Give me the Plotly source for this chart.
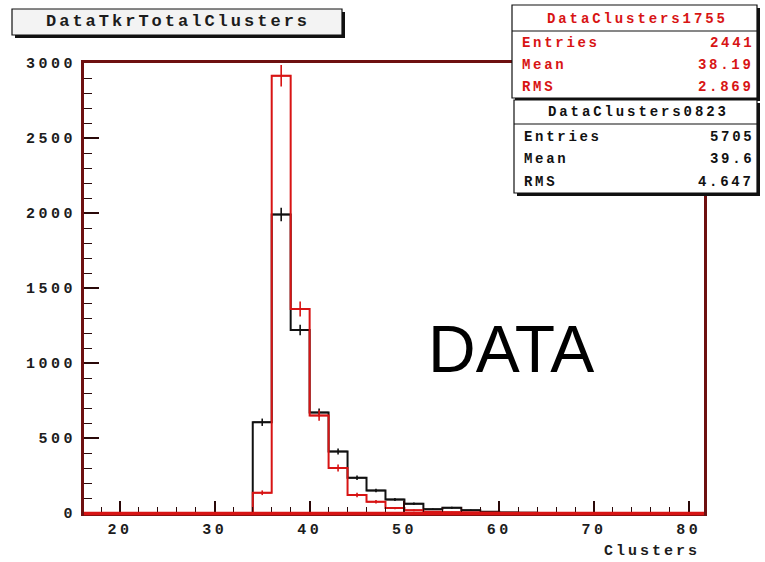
import numpy as np
import plotly.graph_objects as go

# ---- histogram contents (2-cluster wide bins) ----
bin_low = list(range(16, 82, 2))
bin_width = 2

counts_0823 = [0, 0, 0, 0, 0, 0, 0, 0, 0,
               605, 1990, 1220, 670, 410, 235, 150, 90, 62, 25, 35, 18, 8, 3, 2,
               0, 0, 0, 0, 0, 0, 0, 0, 0]
counts_1755 = [0, 0, 0, 0, 0, 0, 0, 0, 0,
               135, 2915, 1360, 650, 300, 120, 75, 33, 18, 8, 5, 3, 1, 0, 0,
               0, 0, 0, 0, 0, 0, 0, 0, 0]
# the 1755 sample is weighted, so its per-bin errors are larger than sqrt(N)
weight_1755 = 1.8

stats_1755 = [("Entries", "2441"), ("Mean", "38.19"), ("RMS", "2.869")]
stats_0823 = [("Entries", "5705"), ("Mean", "39.6"), ("RMS", "4.647")]

x_ticks = [20, 30, 40, 50, 60, 70, 80]
y_ticks = [0, 500, 1000, 1500, 2000, 2500, 3000]

# ---- page geometry (pixels) ----
W, H = 765, 562
L, R, T, B = 84, 704, 63, 513


def px(x):
    return (x - L) / (R - L)


def py(y):
    return (B - y) / (B - T)


def spaced(text, ls):
    return f"<span style='letter-spacing:{ls}px'>{text}</span>"


MONO = "Liberation Mono"
RED = "#d81414"
FRAME = "#6e1010"

edges = bin_low + [bin_low[-1] + bin_width]
centers = [b + bin_width / 2 for b in bin_low]


def step_trace(counts, color, width):
    return go.Scatter(x=edges, y=list(counts) + [counts[-1]], mode="lines",
                      line=dict(color=color, width=width, shape="hv"),
                      hoverinfo="skip", showlegend=False)


def err_trace(counts, color, weight):
    xs = [c for c, n in zip(centers, counts) if n > 0]
    ys = [n for n in counts if n > 0]
    es = [float(np.sqrt(n * weight)) for n in ys]
    return go.Scatter(x=xs, y=ys, mode="markers",
                      marker=dict(size=1, color=color),
                      error_y=dict(type="data", array=es, color=color,
                                   thickness=1.6, width=0),
                      error_x=dict(type="constant", value=bin_width / 2,
                                   color=color, thickness=1.6, width=0),
                      hoverinfo="skip", showlegend=False)


fig = go.Figure()
fig.add_trace(step_trace(counts_0823, "#111111", 2))
fig.add_trace(err_trace(counts_0823, "#111111", 1.0))
fig.add_trace(step_trace(counts_1755, RED, 2))
fig.add_trace(err_trace(counts_1755, RED, weight_1755))

shapes = []


def box(x0, y0, x1, y1, fill, shadow=3, line="#111111"):
    shapes.append(dict(type="rect", xref="paper", yref="paper",
                       x0=px(x0 + shadow), x1=px(x1 + shadow),
                       y0=py(y0 + shadow), y1=py(y1 + shadow),
                       fillcolor="#111111", line=dict(width=0), layer="above"))
    shapes.append(dict(type="rect", xref="paper", yref="paper",
                       x0=px(x0), x1=px(x1), y0=py(y0), y1=py(y1),
                       fillcolor=fill, line=dict(color=line, width=1.2),
                       layer="above"))


def hline(x0, x1, y, color="#111111", width=1.2, layer="above"):
    shapes.append(dict(type="line", xref="paper", yref="paper",
                       x0=px(x0), x1=px(x1), y0=py(y), y1=py(y),
                       line=dict(color=color, width=width), layer=layer))


annotations = []


def label(text, x, y, size, color, anchor="center", family=MONO, ls=None,
          bold=True):
    t = spaced(text, ls) if ls else text
    if bold:
        t = f"<b>{t}</b>"
    annotations.append(dict(text=t, xref="paper", yref="paper",
                            x=px(x), y=py(y), xanchor=anchor, yanchor="middle",
                            showarrow=False,
                            font=dict(family=family, size=size, color=color)))


# zero-level strip along the bottom of the frame, as the red histogram draws it
hline(L, R, B + 0.5, color=RED, width=3.5)

# histogram title box
box(12, 9, 342, 35, "#f3f3f3")
label("DataTkrTotalClusters", 178, 22, 17, "#1c1c1c", ls=3)

# statistics box, run 1755 (red)
box(512, 5, 757, 98, "#ffffff")
hline(512, 757, 31)
label("DataClusters1755", 637, 19, 14, RED, ls=2.9)
for (name, val), yy in zip(stats_1755, [43, 65, 87]):
    label(name, 520, yy, 14, RED, anchor="left", ls=2.7)
    label(val, 756, yy, 14, RED, anchor="right", ls=2.7)

# statistics box, run 0823 (black)
box(514, 100, 757, 193, "#ffffff")
hline(514, 757, 124)
label("DataClusters0823", 638, 112, 14, "#111111", ls=2.9)
for (name, val), yy in zip(stats_0823, [137, 159, 182]):
    label(name, 522, yy, 14, "#111111", anchor="left", ls=2.7)
    label(val, 756, yy, 14, "#111111", anchor="right", ls=2.7)

# big sample tag
label("DATA", 511, 349, 66, "#000000", family="Liberation Sans", bold=False)

# x axis title
label("Clusters", 702, 551, 15, "#1c1c1c", anchor="right", ls=3)

fig.update_layout(
    width=W, height=H,
    margin=dict(l=L, r=W - R, t=T, b=H - B, pad=0),
    paper_bgcolor="#ffffff", plot_bgcolor="#ffffff",
    shapes=shapes, annotations=annotations,
    showlegend=False,
)

fig.update_xaxes(
    range=[16.2, 81.6], showgrid=False, zeroline=False,
    showline=True, linecolor=FRAME, linewidth=3, mirror=True,
    ticks="inside", ticklen=12, tickwidth=1.5, tickcolor="#2a0808",
    tickvals=x_ticks, ticktext=[f"<b>{spaced(v, 3.5)}</b>" for v in x_ticks],
    tickfont=dict(family=MONO, size=15, color="#1c1c1c"),
    ticklabelstandoff=0,
    minor=dict(dtick=2, tick0=0, ticks="inside", ticklen=6, tickwidth=1.3,
               tickcolor="#2a0808", showgrid=False),
)
fig.update_yaxes(
    range=[0, 3000], showgrid=False, zeroline=False,
    showline=True, linecolor=FRAME, linewidth=3, mirror=True,
    ticks="inside", ticklen=15, tickwidth=1.5, tickcolor="#2a0808",
    tickvals=y_ticks, ticktext=[f"<b>{spaced(v, 3.5)}</b>" for v in y_ticks],
    tickfont=dict(family=MONO, size=15, color="#1c1c1c"),
    ticklabelstandoff=2,
    minor=dict(dtick=100, tick0=0, ticks="inside", ticklen=8, tickwidth=1.3,
               tickcolor="#2a0808", showgrid=False),
)

fig.write_html("out.html")
